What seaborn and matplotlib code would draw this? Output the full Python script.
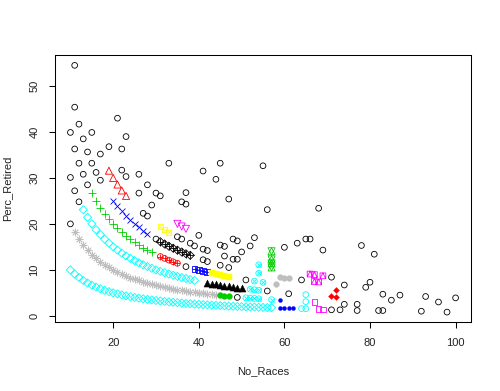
import matplotlib
matplotlib.use("Agg")
import matplotlib.pyplot as plt
import seaborn as sns
from matplotlib.path import Path

sns.set_theme(style="white")
plt.rcParams['font.family'] = ['Liberation Sans', 'DejaVu Sans']

# ---------------- data ----------------
g1_x = [11, 11, 21, 12, 10, 15, 23, 13, 11, 14, 17, 19, 22, 33, 12, 15, 10, 13, 16, 22,
        23, 26, 17, 14, 28, 11, 26, 30, 31, 12, 29, 27, 28, 37, 36, 37, 10, 30, 37, 41,
        45, 55, 44, 47, 56, 36, 35, 40, 38, 39, 41, 42, 45, 46, 48, 49, 53, 50, 52, 46,
        41, 42, 48, 49, 45, 47, 51, 56, 61, 49, 60, 63, 65, 66, 64, 68, 69, 78, 81, 71,
        74, 79, 80, 83, 85, 87, 93, 96, 100, 74, 77, 71, 73, 77, 82, 83, 92, 98]
g1_y = [54.5, 45.4, 43.0, 41.7, 39.9, 39.9, 39.0, 38.5, 36.3, 35.65, 35.2, 36.8, 36.3, 33.2,
        33.2, 33.2, 30.1, 30.8, 31.2, 31.7, 30.3, 30.8, 29.5, 28.5, 28.5, 27.2, 26.7, 26.7,
        26.1, 24.8, 24.1, 22.3, 21.7, 26.8, 24.8, 24.3, 20.0, 16.7, 10.7, 31.5, 33.2, 32.65,
        29.7, 25.4, 23.1, 16.7, 17.2, 17.5, 15.8, 15.2, 14.5, 14.2, 15.4, 15.1, 16.7, 16.3,
        17.0, 13.9, 15.2, 13.0, 12.2, 11.8, 12.3, 12.3, 11.0, 10.5, 7.8, 5.4, 4.8, 4.0,
        14.9, 15.8, 16.7, 16.7, 7.8, 23.4, 14.3, 15.3, 13.4, 8.4, 6.7, 6.2, 7.3, 4.7, 3.4,
        4.5, 4.2, 3.0, 3.9, 2.5, 2.5, 1.3, 1.3, 1.15, 1.15, 1.15, 1.0, 0.8]

g2_x = [19, 20, 21, 22, 23]
g2_y = [31.58, 30.0, 28.57, 27.27, 26.09]

g3_x = [15, 16, 17, 18, 19, 20, 21, 22, 23, 24, 25, 26, 27, 28, 29]
g3_y = [26.67, 25.0, 23.53, 22.22, 21.05, 20.0, 19.05, 18.18, 17.39, 16.67, 16.0, 15.38,
        14.81, 14.29, 13.79]

g4_x = [20, 21, 22, 23, 24, 25, 26, 27, 28]
g4_y = [25.0, 23.81, 22.73, 21.74, 20.83, 20.0, 19.23, 18.52, 17.86]

g5_x = [10, 11, 12, 13, 14, 15, 16, 17, 18, 19, 20, 21, 22, 23, 24, 25, 26, 27, 28, 29,
        30, 31, 32, 33, 34, 35, 36, 37, 38, 39, 40, 41, 42, 43, 44, 45, 46, 47, 48, 49,
        50, 51, 52, 53, 54, 55, 56, 57,
        13, 14, 15, 16, 17, 18, 19, 20, 21, 22, 23, 24, 25, 26, 27, 28, 29, 30, 31, 32,
        33, 34, 35, 36, 37, 38, 39]
g5_y = [10.0, 9.09, 8.33, 7.69, 7.14, 6.67, 6.25, 5.88, 5.56, 5.26, 5.0, 4.76, 4.55, 4.35,
        4.17, 4.0, 3.85, 3.7, 3.57, 3.45, 3.33, 3.23, 3.13, 3.03, 2.94, 2.86, 2.78, 2.7,
        2.63, 2.56, 2.5, 2.44, 2.38, 2.33, 2.27, 2.22, 2.17, 2.13, 2.08, 2.04, 2.0, 1.96,
        1.92, 1.89, 1.85, 1.82, 1.79, 1.75,
        23.08, 21.43, 20.0, 18.75, 17.65, 16.67, 15.79, 15.0, 14.29, 13.64, 13.04, 12.5,
        12.0, 11.54, 11.11, 10.71, 10.34, 10.0, 9.68, 9.38, 9.09, 8.82, 8.57, 8.33, 8.11,
        7.89, 7.69]

g6_x = [35, 36, 37]
g6_y = [20.0, 19.44, 18.92]

g7_x = [31, 32, 33]
g7_y = [19.35, 18.75, 18.18]

g8_x = [11, 12, 13, 14, 15, 16, 17, 18, 19, 20, 21, 22, 23, 24, 25, 26, 27, 28, 29, 30,
        31, 32, 33, 34, 35, 36, 37, 38, 39, 40, 41, 42, 43, 44]
g8_y = [18.18, 16.67, 15.38, 14.29, 13.33, 12.5, 11.76, 11.11, 10.53, 10.0, 9.52, 9.09,
        8.7, 8.33, 8.0, 7.69, 7.41, 7.14, 6.9, 6.67, 6.45, 6.25, 6.06, 5.88, 5.71, 5.56,
        5.41, 5.26, 5.13, 5.0, 4.88, 4.76, 4.65, 4.55]

g9_x = [31, 32, 33, 34, 35, 36, 37, 38]
g9_y = [16.13, 15.63, 15.15, 14.71, 14.29, 13.89, 13.51, 13.16]

g10_x = [31, 32, 33, 34, 35]
g10_y = [12.9, 12.5, 12.12, 11.76, 11.43]

g11_x = [57, 57, 57, 57]
g11_y = [14.04, 12.28, 11.4, 10.53]

g12_x = [39, 40, 41, 42]
g12_y = [10.26, 10.0, 9.76, 9.52]

g13_x = [54, 54, 53, 55, 52, 53, 54, 51, 52, 53, 54, 57]
g13_y = [11.11, 9.26, 7.55, 7.27, 5.77, 5.66, 5.56, 3.92, 3.85, 3.77, 3.7, 3.51]

g14_x = [66, 67, 67, 68, 69]
g14_y = [9.09, 8.96, 7.46, 7.35, 8.7]

g15_x = [43, 44, 45, 46, 47]
g15_y = [9.3, 9.09, 8.89, 8.7, 8.51]

g16_x = [58, 59, 60, 61]
g16_y = [6.9, 8.47, 8.33, 8.2]

g17_x = [42, 43, 44, 45, 46, 47, 48, 49, 50]
g17_y = [7.14, 6.98, 6.82, 6.67, 6.52, 6.38, 6.25, 6.12, 6.0]

g18_x = [72, 71, 72]
g18_y = [5.56, 4.23, 4.17]

g19_x = [45, 46, 47]
g19_y = [4.44, 4.35, 4.26]

g20_x = [59, 59, 60, 61, 62]
g20_y = [3.39, 1.69, 1.67, 1.64, 1.61]

g21_x = [65, 65, 64, 65]
g21_y = [4.62, 3.08, 1.56, 1.54]

g22_x = [67, 68, 69]
g22_y = [2.99, 1.47, 1.45]

x_ticks = [20, 40, 60, 80, 100]
y_ticks = [0, 10, 20, 30, 40, 50]

# ---------------- styling ----------------
BLACK, RED, GREEN, BLUE = "#000000", "#FF0000", "#00CD00", "#0000FF"
CYAN, MAGENTA, YELLOW, GRAY = "#00FFFF", "#FF00FF", "#FFFF00", "#BEBEBE"
LW = 0.6

sq_tri = Path([(-1, -1), (1, -1), (1, 1), (-1, 1), (-1, -1), (0, 1), (1, -1)],
              [Path.MOVETO, Path.LINETO, Path.LINETO, Path.LINETO, Path.LINETO,
               Path.LINETO, Path.LINETO])

fig = plt.figure(figsize=(5, 3.91), dpi=100)
ax = fig.add_axes([55 / 500, 1 - 322 / 391, (471 - 55) / 500, (322 - 55) / 391])


def open_mark(x, y, marker, size, color):
    sns.scatterplot(x=x, y=y, marker=marker, s=size, facecolors="none",
                    edgecolor=color, linewidth=LW, ax=ax)


def line_mark(x, y, marker, size, color):
    sns.scatterplot(x=x, y=y, marker=marker, s=size, color=color,
                    linewidth=LW, ax=ax)


def solid_mark(x, y, marker, size, color):
    sns.scatterplot(x=x, y=y, marker=marker, s=size, color=color,
                    edgecolor=color, linewidth=0.3, ax=ax)


open_mark(g1_x, g1_y, "o", 17, BLACK)
open_mark(g2_x, g2_y, "^", 26, RED)
line_mark(g3_x, g3_y, "+", 32, GREEN)
line_mark(g4_x, g4_y, "x", 18, BLUE)
open_mark(g5_x, g5_y, "D", 17, CYAN)
open_mark(g6_x, g6_y, "v", 26, MAGENTA)
open_mark(g7_x, g7_y, "s", 14, YELLOW)
line_mark(g7_x, g7_y, "x", 14, YELLOW)
line_mark(g8_x, g8_y, (8, 2, 0), 26, GRAY)
open_mark(g9_x, g9_y, "D", 17, BLACK)
line_mark(g9_x, g9_y, "+", 32, BLACK)
open_mark(g10_x, g10_y, "o", 17, RED)
line_mark(g10_x, g10_y, "+", 17, RED)
open_mark(g11_x, g11_y, "^", 26, GREEN)
open_mark(g11_x, g11_y, "v", 26, GREEN)
open_mark(g12_x, g12_y, "s", 17, BLUE)
line_mark(g12_x, g12_y, "+", 17, BLUE)
open_mark(g13_x, g13_y, "o", 17, CYAN)
line_mark(g13_x, g13_y, "x", 9, CYAN)
open_mark(g14_x, g14_y, sq_tri, 17, MAGENTA)
solid_mark(g15_x, g15_y, "s", 17, YELLOW)
solid_mark(g16_x, g16_y, "o", 17, GRAY)
solid_mark(g17_x, g17_y, "^", 26, BLACK)
solid_mark(g18_x, g18_y, "D", 9, RED)
solid_mark(g19_x, g19_y, "o", 17, GREEN)
solid_mark(g20_x, g20_y, "o", 8, BLUE)
open_mark(g21_x, g21_y, "o", 17, CYAN)
open_mark(g22_x, g22_y, "s", 14, MAGENTA)

ax.set_xlim(6.4, 103.6)
ax.set_ylim(-1.35, 56.75)
ax.set_xticks(x_ticks)
ax.set_xticklabels([str(v) for v in x_ticks])
ax.set_yticks(y_ticks)
ax.set_yticklabels([str(v) for v in y_ticks], rotation=90, va="center")

for sp in ax.spines.values():
    sp.set_visible(True)
    sp.set_color("black")
    sp.set_linewidth(0.75)

ax.tick_params(axis="both", which="major", direction="out", length=4.3, width=0.75,
               color="black", labelsize=8, labelcolor="#222222", pad=7,
               bottom=True, left=True)
ax.set_xlabel("No_Races", fontsize=8, color="#222222", labelpad=13)
ax.set_ylabel("Perc_Retired", fontsize=8, color="#222222", labelpad=12)
ax.grid(False)

fig.savefig("out.png", dpi=100)
